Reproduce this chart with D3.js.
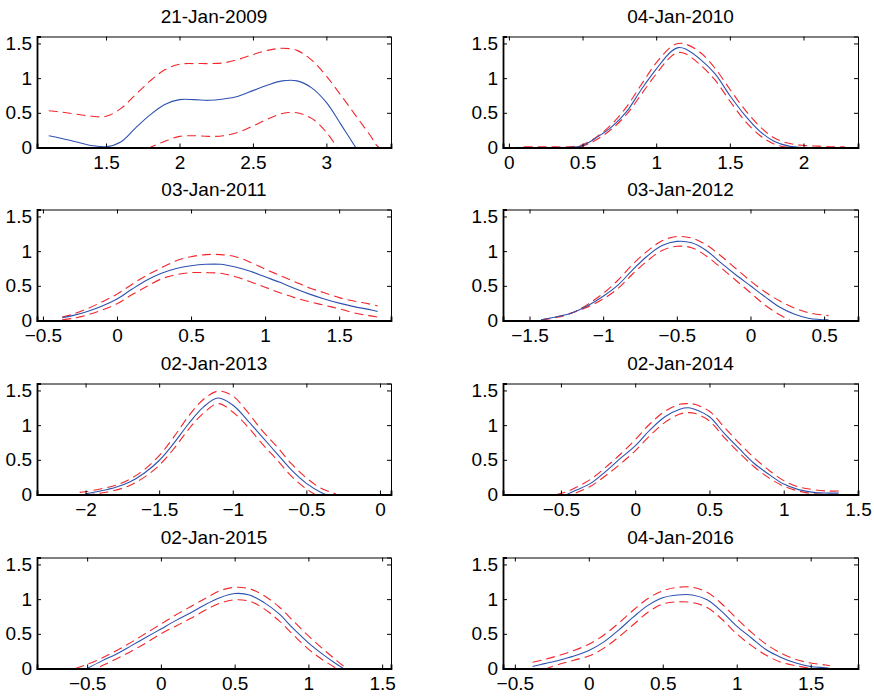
<!DOCTYPE html>
<html>
<head>
<meta charset="utf-8">
<script src="https://cdn.jsdelivr.net/npm/d3@7"></script>
<style>
  html, body { margin: 0; padding: 0; background: #fff; }
  svg { display: block; font-family: "Liberation Sans", Arial, Helvetica, sans-serif; }
</style>
</head>
<body>
<svg id="chart" width="874" height="698"></svg>
<script>
// Density estimates by year: centre curve (solid) with upper/lower bands (dashed).
const titles = ["21-Jan-2009", "04-Jan-2010", "03-Jan-2011", "03-Jan-2012",
                "02-Jan-2013", "02-Jan-2014", "02-Jan-2015", "04-Jan-2016"];

const xDomains = [[1.03, 3.44], [-0.04, 2.37], [-0.54, 1.85], [-1.68, 0.73],
                  [-2.33, 0.075], [-0.89, 1.5], [-0.84, 1.56], [-0.58, 1.82]];

const xTicks = [[1.5, 2, 2.5, 3], [0, 0.5, 1, 1.5, 2], [-0.5, 0, 0.5, 1, 1.5], [-1.5, -1, -0.5, 0, 0.5],
                [-2, -1.5, -1, -0.5, 0], [-0.5, 0, 0.5, 1, 1.5], [-0.5, 0, 0.5, 1, 1.5], [-0.5, 0, 0.5, 1, 1.5]];

const yTicks = [0, 0.5, 1, 1.5];

// 2009
const x2009     = [1.11, 1.2, 1.3, 1.4, 1.5, 1.6, 1.7, 1.8, 1.9, 2.0, 2.1, 2.2, 2.3, 2.4, 2.5, 2.6, 2.7, 2.8, 2.9, 3.0, 3.1, 3.2, 3.3, 3.36, 3.44];
const mid2009   = [0.17, 0.13, 0.08, 0.03, 0.01, 0.08, 0.28, 0.47, 0.62, 0.69, 0.69, 0.68, 0.70, 0.74, 0.82, 0.90, 0.96, 0.96, 0.86, 0.65, 0.33, 0.0, null, null, null];
const upper2009 = [0.53, 0.51, 0.48, 0.45, 0.45, 0.56, 0.76, 0.96, 1.12, 1.20, 1.21, 1.21, 1.22, 1.27, 1.34, 1.40, 1.43, 1.40, 1.26, 1.03, 0.75, 0.46, 0.17, 0.0, 0.0];
const lower2009 = [null, null, null, null, null, null, -0.12, 0.0, 0.09, 0.16, 0.17, 0.16, 0.17, 0.22, 0.31, 0.41, 0.49, 0.50, 0.42, 0.22, -0.09, null, null, null, null];

// 2010
const x2010     = [0.1, 0.2, 0.3, 0.4, 0.5, 0.6, 0.7, 0.8, 0.9, 1.0, 1.1, 1.15, 1.2, 1.3, 1.4, 1.5, 1.6, 1.7, 1.8, 1.9, 2.0, 2.1, 2.2, 2.28];
const mid2010   = [0.0, 0.0, 0.0, 0.0, 0.03, 0.15, 0.30, 0.52, 0.84, 1.13, 1.38, 1.44, 1.42, 1.27, 1.06, 0.75, 0.47, 0.24, 0.09, 0.02, 0.0, null, null, null];
const upper2010 = [0.01, 0.01, 0.01, 0.01, 0.04, 0.16, 0.34, 0.59, 0.91, 1.22, 1.45, 1.50, 1.49, 1.37, 1.14, 0.84, 0.55, 0.31, 0.14, 0.06, 0.03, 0.02, 0.01, 0.01];
const lower2010 = [0.0, 0.0, 0.0, 0.0, 0.02, 0.12, 0.27, 0.48, 0.77, 1.06, 1.31, 1.37, 1.35, 1.19, 0.97, 0.67, 0.39, 0.18, 0.05, 0.0, 0.0, null, null, null];

// 2011
const x2011     = [-0.37, -0.3, -0.2, -0.1, 0.0, 0.1, 0.2, 0.3, 0.4, 0.5, 0.6, 0.7, 0.8, 0.9, 1.0, 1.1, 1.2, 1.3, 1.4, 1.5, 1.6, 1.7, 1.76];
const mid2011   = [0.04, 0.07, 0.13, 0.21, 0.31, 0.45, 0.58, 0.68, 0.75, 0.79, 0.81, 0.81, 0.77, 0.71, 0.63, 0.55, 0.46, 0.38, 0.31, 0.25, 0.20, 0.16, 0.13];
const upper2011 = [0.05, 0.09, 0.17, 0.27, 0.38, 0.52, 0.65, 0.76, 0.86, 0.92, 0.95, 0.95, 0.92, 0.84, 0.74, 0.65, 0.56, 0.47, 0.40, 0.33, 0.28, 0.24, 0.21];
const lower2011 = [0.01, 0.03, 0.08, 0.15, 0.24, 0.37, 0.49, 0.60, 0.66, 0.69, 0.69, 0.68, 0.63, 0.56, 0.48, 0.40, 0.33, 0.27, 0.22, 0.17, 0.11, 0.07, 0.05];

// 2012
const x2012     = [-1.42, -1.3, -1.2, -1.1, -1.0, -0.9, -0.8, -0.7, -0.6, -0.5, -0.4, -0.3, -0.2, -0.1, 0.0, 0.1, 0.2, 0.3, 0.4, 0.53];
const mid2012   = [0.01, 0.06, 0.12, 0.22, 0.35, 0.51, 0.73, 0.93, 1.08, 1.14, 1.12, 1.01, 0.83, 0.66, 0.50, 0.34, 0.19, 0.09, 0.03, 0.01];
const upper2012 = [0.01, 0.05, 0.12, 0.24, 0.39, 0.58, 0.81, 1.00, 1.15, 1.21, 1.19, 1.09, 0.93, 0.75, 0.57, 0.41, 0.28, 0.18, 0.11, 0.07];
const lower2012 = [0.01, 0.06, 0.12, 0.20, 0.31, 0.46, 0.67, 0.86, 1.01, 1.07, 1.05, 0.93, 0.76, 0.58, 0.40, 0.22, 0.08, -0.03, null, null];

// 2013
const x2013     = [-2.04, -2.0, -1.9, -1.8, -1.7, -1.6, -1.5, -1.4, -1.3, -1.2, -1.1, -1.0, -0.9, -0.8, -0.7, -0.6, -0.5, -0.4, -0.3];
const mid2013   = [null, 0.01, 0.05, 0.10, 0.18, 0.31, 0.49, 0.74, 1.02, 1.26, 1.39, 1.29, 1.07, 0.83, 0.59, 0.35, 0.16, 0.03, -0.05];
const upper2013 = [0.03, 0.04, 0.08, 0.13, 0.22, 0.36, 0.56, 0.83, 1.13, 1.37, 1.49, 1.42, 1.19, 0.92, 0.69, 0.44, 0.24, 0.09, 0.01];
const lower2013 = [null, -0.01, 0.02, 0.06, 0.13, 0.25, 0.42, 0.66, 0.94, 1.17, 1.31, 1.19, 0.98, 0.73, 0.50, 0.26, 0.08, -0.05, null];

// 2014
const x2014     = [-0.53, -0.46, -0.4, -0.3, -0.2, -0.1, 0.0, 0.1, 0.2, 0.3, 0.36, 0.4, 0.5, 0.6, 0.7, 0.8, 0.9, 1.0, 1.1, 1.2, 1.3, 1.37];
const mid2014   = [null, 0.0, 0.06, 0.16, 0.33, 0.52, 0.70, 0.93, 1.12, 1.23, 1.25, 1.23, 1.12, 0.88, 0.66, 0.45, 0.29, 0.15, 0.07, 0.03, 0.02, 0.02];
const upper2014 = [0.0, 0.04, 0.10, 0.22, 0.39, 0.58, 0.79, 1.02, 1.20, 1.30, 1.31, 1.30, 1.20, 0.97, 0.74, 0.53, 0.35, 0.20, 0.11, 0.07, 0.05, 0.05];
const lower2014 = [null, null, 0.02, 0.12, 0.27, 0.44, 0.63, 0.85, 1.04, 1.16, 1.18, 1.17, 1.06, 0.82, 0.60, 0.40, 0.24, 0.12, 0.05, 0.01, 0.0, 0.0];

// 2015
const x2015     = [-0.58, -0.5, -0.4, -0.3, -0.2, -0.1, 0.0, 0.1, 0.2, 0.3, 0.4, 0.5, 0.6, 0.7, 0.8, 0.9, 1.0, 1.1, 1.2, 1.26];
const mid2015   = [null, 0.0, 0.11, 0.21, 0.33, 0.45, 0.57, 0.69, 0.80, 0.92, 1.02, 1.08, 1.06, 0.95, 0.79, 0.57, 0.37, 0.20, 0.05, -0.03];
const upper2015 = [0.0, 0.06, 0.15, 0.26, 0.38, 0.51, 0.64, 0.77, 0.89, 1.01, 1.12, 1.17, 1.15, 1.05, 0.89, 0.68, 0.47, 0.28, 0.10, 0.0];
const lower2015 = [null, -0.06, 0.04, 0.14, 0.25, 0.37, 0.50, 0.61, 0.72, 0.84, 0.94, 0.99, 0.97, 0.86, 0.69, 0.48, 0.28, 0.12, -0.01, null];

// 2016
const x2016     = [-0.38, -0.3, -0.2, -0.1, 0.0, 0.1, 0.2, 0.3, 0.4, 0.5, 0.6, 0.7, 0.8, 0.9, 1.0, 1.1, 1.2, 1.3, 1.4, 1.5, 1.6, 1.63];
const mid2016   = [0.03, 0.07, 0.12, 0.18, 0.26, 0.38, 0.55, 0.74, 0.91, 1.02, 1.06, 1.06, 0.99, 0.82, 0.61, 0.44, 0.27, 0.16, 0.08, 0.03, 0.01, 0.0];
const upper2016 = [0.09, 0.13, 0.19, 0.26, 0.35, 0.48, 0.65, 0.84, 1.01, 1.12, 1.17, 1.17, 1.10, 0.93, 0.72, 0.52, 0.35, 0.22, 0.13, 0.08, 0.05, 0.04];
const lower2016 = [null, -0.01, 0.06, 0.12, 0.18, 0.29, 0.45, 0.63, 0.81, 0.93, 0.96, 0.95, 0.88, 0.71, 0.50, 0.33, 0.19, 0.09, 0.04, 0.0, null, null];

const panels = [
  { x: x2009, mid: mid2009, up: upper2009, lo: lower2009 },
  { x: x2010, mid: mid2010, up: upper2010, lo: lower2010 },
  { x: x2011, mid: mid2011, up: upper2011, lo: lower2011 },
  { x: x2012, mid: mid2012, up: upper2012, lo: lower2012 },
  { x: x2013, mid: mid2013, up: upper2013, lo: lower2013 },
  { x: x2014, mid: mid2014, up: upper2014, lo: lower2014 },
  { x: x2015, mid: mid2015, up: upper2015, lo: lower2015 },
  { x: x2016, mid: mid2016, up: upper2016, lo: lower2016 }
];

// Grid layout (pixels)
const colLeft = [37, 503];
const plotW = [354, 355];
const rowTop = [36.5, 209.5, 383.5, 557.5];
const plotH = 111;

const svg = d3.select("#chart");
const fmt = d3.format("~g");
const tickLen = 4;
const fontSize = 19;

panels.forEach((p, i) => {
  const col = i % 2, row = Math.floor(i / 2);
  const w = plotW[col], h = plotH;
  const g = svg.append("g").attr("transform", `translate(${colLeft[col]},${rowTop[row]})`);

  const x = d3.scaleLinear().domain(xDomains[i]).range([0, w]);
  const y = d3.scaleLinear().domain([0, 1.6]).range([h, 0]);

  const clipId = "clip" + i;
  g.append("clipPath").attr("id", clipId)
    .append("rect").attr("x", 0).attr("y", -1).attr("width", w).attr("height", h + 1.5);

  // curves: dashed bands first, solid centre on top
  const series = [
    { v: p.up, color: "#f2262b", dash: "9,5" },
    { v: p.lo, color: "#f2262b", dash: "9,5" },
    { v: p.mid, color: "#2d52b0", dash: null }
  ];
  const plot = g.append("g").attr("clip-path", `url(#${clipId})`);
  series.forEach(s => {
    const pts = p.x.map((xv, k) => [xv, s.v[k]]);
    const line = d3.line()
      .defined(d => d[1] !== null)
      .x(d => x(d[0]))
      .y(d => y(d[1]))
      .curve(d3.curveCatmullRom.alpha(0.5));
    plot.append("path")
      .attr("d", line(pts))
      .attr("fill", "none")
      .attr("stroke", s.color)
      .attr("stroke-width", 1.1)
      .attr("stroke-dasharray", s.dash);
  });

  // box with inward ticks on all four sides
  const xa = d3.axisBottom(x).tickValues(xTicks[i]).tickSize(-tickLen).tickPadding(8).tickFormat(fmt);
  const xt = d3.axisTop(x).tickValues(xTicks[i]).tickSize(-tickLen).tickFormat("");
  const ya = d3.axisLeft(y).tickValues(yTicks).tickSize(-tickLen).tickPadding(5).tickFormat(fmt);
  const yr = d3.axisRight(y).tickValues(yTicks).tickSize(-tickLen).tickFormat("");

  const styleAxis = (sel, width) => {
    sel.select(".domain").attr("stroke", "#000").attr("stroke-width", width);
    sel.selectAll(".tick line").attr("stroke", "#000").attr("stroke-width", 1);
    sel.selectAll(".tick text").attr("fill", "#000").attr("font-size", fontSize)
       .attr("font-family", "'Liberation Sans', Arial, Helvetica, sans-serif");
  };

  g.append("g").call(xt).call(s => styleAxis(s, 1));
  g.append("g").attr("transform", `translate(${w},0)`).call(yr).call(s => styleAxis(s, 1));
  g.append("g").attr("transform", `translate(0,${h})`).call(xa).call(s => styleAxis(s, 1.8));
  g.append("g").call(ya).call(s => styleAxis(s, 1.8));

  // title
  g.append("text")
    .attr("x", w / 2)
    .attr("y", -14)
    .attr("text-anchor", "middle")
    .attr("font-size", fontSize)
    .attr("fill", "#000")
    .text(titles[i]);
});
</script>
</body>
</html>
